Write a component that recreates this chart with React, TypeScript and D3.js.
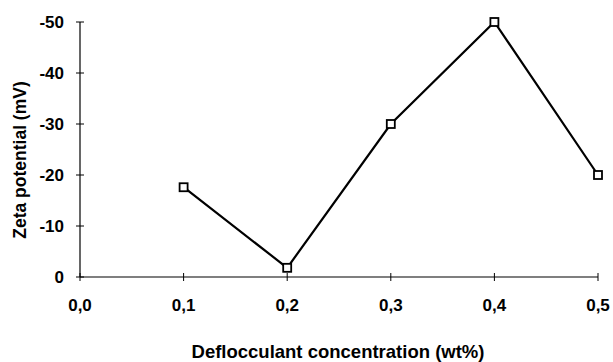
import React from "react";
import * as d3 from "d3";

const concentrations = [0.1, 0.2, 0.3, 0.4, 0.5];
const zetaPotential = [-17.6, -1.8, -30, -50, -20];
const xTicks = [0, 0.1, 0.2, 0.3, 0.4, 0.5];
const yTicks = [0, -10, -20, -30, -40, -50];

const W = 613;
const H = 362;
const font = "'Liberation Sans', Arial, sans-serif";

export default function App() {
  const x = d3.scaleLinear().domain([0, 0.5]).range([80, 598]);
  const y = d3.scaleLinear().domain([0, -50]).range([277, 22]);
  const fmt = (v: number) => v.toFixed(1).replace(".", ",");
  const line = d3
    .line<number>()
    .x((_, i) => x(concentrations[i]))
    .y((d) => y(d));

  return (
    <svg width={W} height={H} style={{ position: "absolute", left: 0, top: 0, background: "#fff" }}>
      <g fontFamily={font} fontWeight="bold" fill="#000">
        {/* axes */}
        <line x1={x(0)} x2={x(0)} y1={y(-50)} y2={y(0)} stroke="#000" strokeWidth={1.2} />
        <line x1={x(0)} x2={x(0.5)} y1={y(0)} y2={y(0)} stroke="#000" strokeWidth={1.2} />
        {yTicks.map((t) => (
          <g key={"y" + t}>
            <line x1={x(0) - 4} x2={x(0) + 4} y1={y(t)} y2={y(t)} stroke="#000" strokeWidth={1} />
            <text x={64} y={y(t)} dy="0.36em" textAnchor="end" fontSize={17}>
              {t}
            </text>
          </g>
        ))}
        {xTicks.map((t) => (
          <g key={"x" + t}>
            <line x1={x(t)} x2={x(t)} y1={y(0) - 4} y2={y(0) + 4} stroke="#000" strokeWidth={1} />
            <text x={x(t)} y={305} dy="0.36em" textAnchor="middle" fontSize={17}>
              {fmt(t)}
            </text>
          </g>
        ))}
        <text x={338} y={351} dy="0.36em" textAnchor="middle" fontSize={18.5}>
          Deflocculant concentration (wt%)
        </text>
        <text
          transform={`translate(20,${160}) rotate(-90)`}
          dy="0.36em"
          textAnchor="middle"
          fontSize={17.5}
        >
          Zeta potential (mV)
        </text>
        <path d={line(zetaPotential) ?? ""} fill="none" stroke="#000" strokeWidth={2.2} />
        {zetaPotential.map((v, i) => (
          <rect
            key={i}
            x={x(concentrations[i]) - 4}
            y={y(v) - 4}
            width={8}
            height={8}
            fill="#fff"
            stroke="#000"
            strokeWidth={1.8}
          />
        ))}
      </g>
    </svg>
  );
}
